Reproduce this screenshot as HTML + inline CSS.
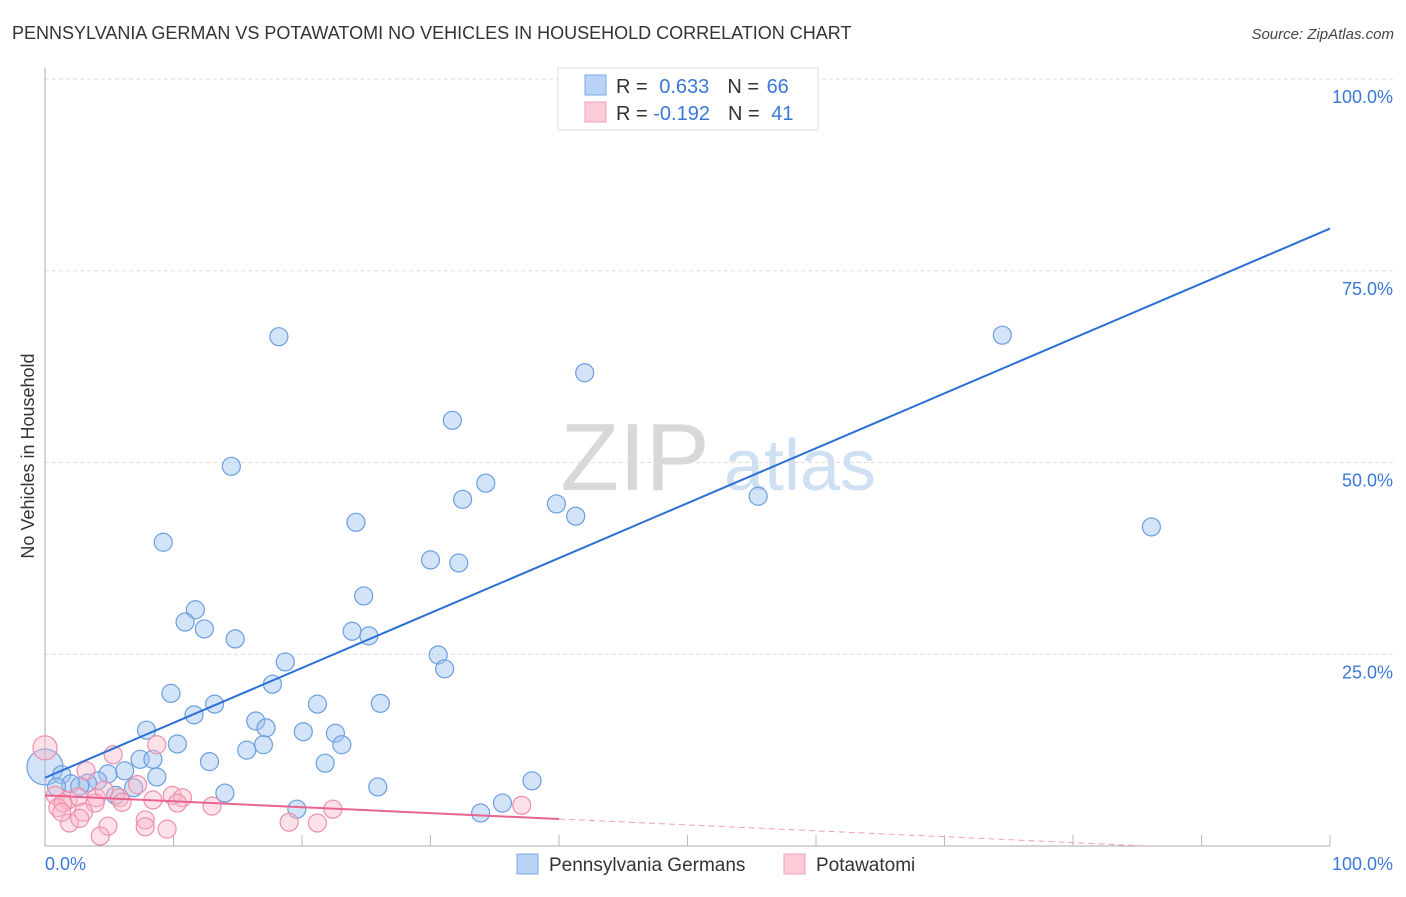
<!DOCTYPE html>
<html><head><meta charset="utf-8"><style>
body{margin:0;background:#fff;font-family:"Liberation Sans",sans-serif;}
svg text{font-family:"Liberation Sans",sans-serif;}
</style></head><body>
<svg id="chart" width="1406" height="892" viewBox="0 0 1406 892" xmlns="http://www.w3.org/2000/svg">
<text x="12" y="39" font-size="18" fill="#333">PENNSYLVANIA GERMAN VS POTAWATOMI NO VEHICLES IN HOUSEHOLD CORRELATION CHART</text>
<text x="1394" y="39" font-size="15" fill="#444" text-anchor="end" font-style="italic">Source: ZipAtlas.com</text>
<text transform="translate(34,456) rotate(-90)" font-size="18" fill="#333" text-anchor="middle">No Vehicles in Household</text>
<g>
<text x="635" y="490" font-size="96" fill="#d8d8d8" font-family="Liberation Serif,serif" text-anchor="middle">ZIP</text>
<text x="800" y="490" font-size="72" fill="#cfe0f3" text-anchor="middle">atlas</text>
</g>
<g id="grid"></g>
<g id="axes"></g>
<g id="marks"></g>
<g id="lines"></g>
<g>
<rect x="558" y="68" width="260" height="62" fill="#fff" stroke="#ddd"/>
<rect x="585" y="75" width="21" height="20" fill="#b8d3f5" stroke="#7aa8e6"/>
<rect x="585" y="102" width="21" height="20" fill="#fccbd8" stroke="#f0a0b8"/>
<text x="616" y="93" font-size="20" fill="#333">R = <tspan fill="#3a78d8" dx="6">0.633</tspan><tspan dx="18" fill="#333">N = </tspan><tspan fill="#3a78d8" dx="2">66</tspan></text>
<text x="616" y="120" font-size="20" fill="#333">R = <tspan fill="#3a78d8">-0.192</tspan><tspan dx="18" fill="#333">N = </tspan><tspan fill="#3a78d8" dx="6">41</tspan></text>
</g>
<g>
<rect x="517" y="854" width="21" height="20" fill="#b8d3f5" stroke="#7aa8e6"/>
<text x="549" y="871" font-size="19" fill="#333">Pennsylvania Germans</text>
<rect x="784" y="854" width="21" height="20" fill="#fccbd8" stroke="#f0a0b8"/>
<text x="816" y="871" font-size="19" fill="#333">Potawatomi</text>
</g>
</svg>
<script>
const blueX=[18.2,74.5,42.0,31.7,14.5,34.3,32.5,55.5,39.8,41.3,24.2,86.1,9.2,30.0,32.2,24.8,11.7,10.9,12.4,23.9,25.2,14.8,30.6,18.7,31.1,17.7,9.8,21.2,26.1,13.2,11.6,16.4,17.2,7.9,20.1,22.6,10.3,23.1,17.0,15.7,7.4,8.4,12.8,21.8,0,6.2,4.9,1.3,8.7,4.1,37.9,3.3,2.0,2.7,0.9,6.9,25.9,14.0,5.5,35.6,19.6,33.9,54.1];
const blueY=[66.4,66.6,61.7,55.5,49.5,47.3,45.2,45.6,44.6,43.0,42.2,41.6,39.6,37.3,36.9,32.6,30.8,29.2,28.3,28.0,27.4,27.0,24.9,24.0,23.1,21.1,19.9,18.5,18.6,18.5,17.1,16.3,15.4,15.1,14.9,14.7,13.3,13.2,13.2,12.5,11.3,11.3,11.0,10.8,10.3,9.8,9.4,9.3,9.0,8.5,8.5,8.2,8.1,7.8,7.7,7.6,7.7,6.9,6.6,5.6,4.8,4.3,99.9];
const pinkX=[0,8.7,5.3,3.2,7.2,0.8,1.8,2.6,4.0,5.8,4.6,1.0,1.4,3.9,8.4,9.9,10.7,10.3,13.0,6.0,3.0,22.4,37.1,1.9,2.7,4.9,7.8,7.8,9.5,19.0,21.2,4.3,1.3];
const pinkY=[12.8,13.2,11.9,9.8,8.0,6.6,6.0,6.4,6.3,6.3,7.3,5.0,5.6,5.6,6.0,6.6,6.3,5.6,5.2,5.7,4.4,4.8,5.3,3.0,3.6,2.6,3.4,2.5,2.2,3.1,3.0,1.3,4.4];
const yTicks=[25,50,75,100];
const yTickLabels=["25.0%","50.0%","75.0%","100.0%"];
const xTicks=[10,20,30,40,50,60,70,80,90,100];
const blueTrend=[8.9,80.5];
const pinkTrend=[6.6,-0.077];
const NS="http://www.w3.org/2000/svg";
const X=v=>45+v*12.85, Y=v=>846-v*7.67;
function mk(tag,attrs,parent){const e=document.createElementNS(NS,tag);for(const k in attrs)e.setAttribute(k,attrs[k]);document.getElementById(parent).appendChild(e);return e;}
yTicks.forEach((t,i)=>{
 const g=mk('line',{x1:45,x2:1393,y1:Y(t),y2:Y(t),stroke:'#ddd','stroke-dasharray':'4,3'},'grid');
 
 
 const l=mk('text',{x:1393,y:Y(t)+24,'font-size':18,fill:'#3a78d8','text-anchor':'end'},'axes');
 l.textContent=yTickLabels[i];
 
 
});
const ax=mk('line',{x1:45,x2:1330,y1:846,y2:846,stroke:'#aaa'},'axes');


const ay=mk('line',{x1:45,x2:45,y1:68,y2:846,stroke:'#aaa'},'axes');


xTicks.forEach(t=>{
 const k=mk('line',{x1:X(t),x2:X(t),y1:835,y2:846,stroke:'#bbb'},'axes');
 
 
});
const x0=mk('text',{x:45,y:870,'font-size':18,fill:'#3a78d8'},'axes');x0.textContent='0.0%';


const x1=mk('text',{x:1393,y:870,'font-size':18,fill:'#3a78d8','text-anchor':'end'},'axes');x1.textContent='100.0%';


blueX.forEach((v,i)=>{
 const c=mk('circle',{cx:X(v),cy:Y(blueY[i]),r:v===0?18:9,fill:'rgba(160,196,240,0.45)',stroke:'#6a9ee0','stroke-width':1.2},'marks');
 
 
});
pinkX.forEach((v,i)=>{
 const c=mk('circle',{cx:X(v),cy:Y(pinkY[i]),r:v===0?12:9,fill:'rgba(250,180,200,0.4)',stroke:'#ee8fab','stroke-width':1.2},'marks');
 
 
});
const bl=mk('line',{x1:X(0),y1:Y(blueTrend[0]),x2:X(100),y2:Y(blueTrend[1]),stroke:'#2b6fd6','stroke-width':2},'lines');


const pe=40,pend=Math.min(100,pinkTrend[0]/-pinkTrend[1]);
const pl=mk('line',{x1:X(0),y1:Y(pinkTrend[0]),x2:X(pe),y2:Y(pinkTrend[0]+pinkTrend[1]*pe),stroke:'#e8638d','stroke-width':2},'lines');


const pd=mk('line',{x1:X(pe),y1:Y(pinkTrend[0]+pinkTrend[1]*pe),x2:X(pend),y2:Y(pinkTrend[0]+pinkTrend[1]*pend),stroke:'#f0a0b8','stroke-width':1,'stroke-dasharray':'6,4'},'lines');


</script>
</body></html>
